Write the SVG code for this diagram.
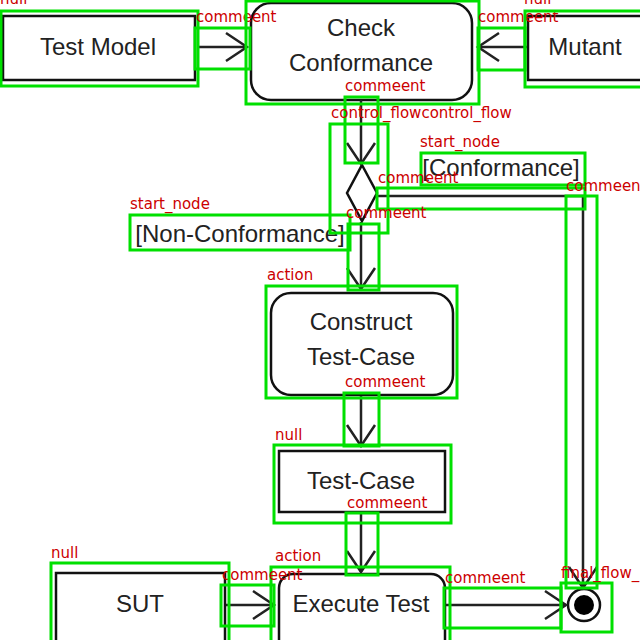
<svg xmlns="http://www.w3.org/2000/svg" width="640" height="640" viewBox="0 0 640 640">
<style>
.box{fill:#fff;stroke:#111;stroke-width:2.5}
.t{font-family:"Liberation Sans",Arial,sans-serif;font-size:24px;fill:#222;text-anchor:middle}
.ln{fill:none;stroke:#222;stroke-width:2.5}
.ah{fill:none;stroke:#222;stroke-width:2.5}
.g{fill:none;stroke:#00e000;stroke-width:3}
.lb{font-family:"DejaVu Sans",sans-serif;font-size:15px;fill:#cc0000}
</style>
<rect width="640" height="640" fill="#fff"/>
<g id="test-model"><rect class="box" x="3" y="16" width="192" height="64"/><text class="t" x="98" y="55">Test Model</text></g>
<g id="check-conformance"><rect class="box" x="251" y="3" width="221" height="97" rx="20"/><text class="t" x="361" y="36">Check</text><text class="t" x="361" y="71">Conformance</text></g>
<g id="mutant"><rect class="box" x="528" y="16" width="115" height="64"/><text class="t" x="585" y="55">Mutant</text></g>
<g id="decision"><polygon class="box" points="362,165 377,193 362,221 347,193"/></g>
<g id="conformance-label"><text class="t" x="501" y="176">[Conformance]</text></g>
<g id="non-conformance-label"><text class="t" x="240" y="242">[Non-Conformance]</text></g>
<g id="construct-test-case"><rect class="box" x="271" y="293" width="182" height="102" rx="20"/><text class="t" x="361" y="330">Construct</text><text class="t" x="361" y="365">Test-Case</text></g>
<g id="test-case"><rect class="box" x="279" y="451" width="166" height="61"/><text class="t" x="361" y="489">Test-Case</text></g>
<g id="execute-test"><rect class="box" x="279" y="574" width="166" height="80" rx="14"/><text class="t" x="361" y="612">Execute Test</text></g>
<g id="sut"><rect class="box" x="56" y="573" width="169" height="80"/><text class="t" x="140" y="612">SUT</text></g>
<g id="final"><circle cx="584" cy="605" r="16" fill="#fff" stroke="#111" stroke-width="2.5"/><circle cx="584" cy="605" r="10" fill="#000"/></g>
<g id="connectors">
<path class="ln" d="M197,47 H247"/><path class="ah" d="M226,33 L247,47 L226,61"/>
<path class="ln" d="M527,47 H478"/><path class="ah" d="M499,33 L478,47 L499,61"/>
<path class="ln" d="M361,100 V164"/><path class="ah" d="M347,143 L361,164 L375,143"/>
<path class="ln" d="M378,196 H583 V588"/><path class="ah" d="M569,567 L583,588 L597,567"/>
<path class="ln" d="M361,222 V289"/><path class="ah" d="M347,268 L361,289 L375,268"/>
<path class="ln" d="M361,396 V446"/><path class="ah" d="M347,425 L361,446 L375,425"/>
<path class="ln" d="M361,513 V572"/><path class="ah" d="M347,551 L361,572 L375,551"/>
<path class="ln" d="M226,605 H274"/><path class="ah" d="M253,591 L274,605 L253,619"/>
<path class="ln" d="M446,605 H566"/><path class="ah" d="M545,591 L566,605 L545,619"/>
</g>
<g id="annotations">
<rect class="g" x="1" y="11" width="197" height="75"/><text class="lb" x="0" y="4">null</text>
<rect class="g" x="195" y="28" width="55" height="41"/><text class="lb" x="196" y="22">commeent</text>
<rect class="g" x="246" y="1" width="233" height="103"/>
<rect class="g" x="478" y="28" width="47" height="42"/><text class="lb" x="478" y="22">commeent</text>
<rect class="g" x="525" y="11" width="117" height="76"/><text class="lb" x="524" y="4">null</text>
<rect class="g" x="345" y="97" width="33" height="66"/><text class="lb" x="345" y="91">commeent</text>
<rect class="g" x="330" y="124" width="58" height="109"/><text class="lb" x="331" y="118">control_flowcontrol_flow</text>
<rect class="g" x="421" y="153" width="164" height="32"/><text class="lb" x="420" y="147">start_node</text>
<rect class="g" x="377" y="188" width="208" height="21"/><text class="lb" x="378" y="183">commeent</text>
<rect class="g" x="566" y="196" width="31" height="392"/><text class="lb" x="566" y="191">commeent</text>
<rect class="g" x="130" y="215" width="220" height="35"/><text class="lb" x="130" y="209">start_node</text>
<rect class="g" x="348" y="224" width="31" height="66"/><text class="lb" x="346" y="218">commeent</text>
<rect class="g" x="266" y="286" width="191" height="112"/><text class="lb" x="267" y="280">action</text>
<rect class="g" x="344" y="393" width="35" height="53"/><text class="lb" x="345" y="387">commeent</text>
<rect class="g" x="274" y="445" width="177" height="78"/><text class="lb" x="275" y="440">null</text>
<rect class="g" x="346" y="513" width="32" height="62"/><text class="lb" x="347" y="508">commeent</text>
<rect class="g" x="271" y="567" width="179" height="75"/><text class="lb" x="275" y="561">action</text>
<rect class="g" x="221" y="585" width="53" height="41"/><text class="lb" x="222" y="580">commeent</text>
<rect class="g" x="51" y="563" width="178" height="79"/><text class="lb" x="51" y="558">null</text>
<rect class="g" x="444" y="588" width="117" height="40"/><text class="lb" x="445" y="583">commeent</text>
<rect class="g" x="561" y="583" width="51" height="49"/><text class="lb" x="561" y="578">final_flow_</text>
</g>
</svg>
